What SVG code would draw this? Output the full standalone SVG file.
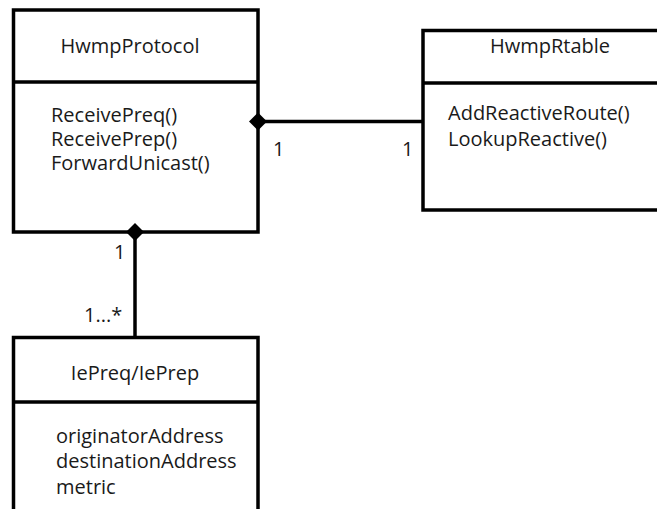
<svg xmlns="http://www.w3.org/2000/svg" width="657" height="509" viewBox="0 0 657 509">
  <style>
    .box { fill: #ffffff; stroke: #000000; stroke-width: 3.5; }
    .sep { stroke: #000000; stroke-width: 3.5; }
    .conn { stroke: #000000; stroke-width: 3.5; fill: none; }
    .dia { fill: #000000; stroke: none; }
    text { font-family: "Open Sans", "Noto Sans", "Liberation Sans", sans-serif; font-size: 20px; fill: #1a1a1a; }
    .title { text-anchor: middle; }
  </style>
  <rect width="657" height="509" fill="#ffffff"/>

  <g id="connectors">
    <!-- composition HwmpProtocol -> HwmpRtable -->
    <line class="conn" x1="258" y1="121.5" x2="423" y2="121.5"/>
    <!-- composition HwmpProtocol -> IePreq/IePrep -->
    <line class="conn" x1="135" y1="232" x2="135" y2="337.5"/>
  </g>

  <g id="HwmpProtocol">
    <rect class="box" x="13.5" y="10" width="244.5" height="222"/>
    <line class="sep" x1="13.5" y1="82" x2="258" y2="82"/>
    <text class="title" x="130" y="53">HwmpProtocol</text>
    <text x="51" y="122">ReceivePreq()</text>
    <text x="51" y="146">ReceivePrep()</text>
    <text x="51" y="170">ForwardUnicast()</text>
  </g>

  <g id="HwmpRtable">
    <rect class="box" x="423" y="30.5" width="250" height="179.5"/>
    <line class="sep" x1="423" y1="83" x2="673" y2="83"/>
    <text class="title" x="550" y="53">HwmpRtable</text>
    <text x="448" y="120">AddReactiveRoute()</text>
    <text x="448" y="146">LookupReactive()</text>
  </g>

  <g id="IePreqIePrep">
    <rect class="box" x="13.5" y="337.5" width="244.5" height="190"/>
    <line class="sep" x1="13.5" y1="402" x2="258" y2="402"/>
    <text class="title" x="135" y="380">IePreq/IePrep</text>
    <text x="56" y="443">originatorAddress</text>
    <text x="56" y="468">destinationAddress</text>
    <text x="56" y="494">metric</text>
  </g>

  <g id="ends">
    <!-- filled diamonds marking the composite side -->
    <polygon class="dia" points="249,121.5 258,112.5 267,121.5 258,130.5"/>
    <polygon class="dia" points="126,232 135,223 144,232 135,241"/>
    <!-- multiplicities -->
    <text x="273" y="156">1</text>
    <text x="402" y="156">1</text>
    <text x="114" y="259">1</text>
    <text x="84" y="322">1...*</text>
  </g>
</svg>
